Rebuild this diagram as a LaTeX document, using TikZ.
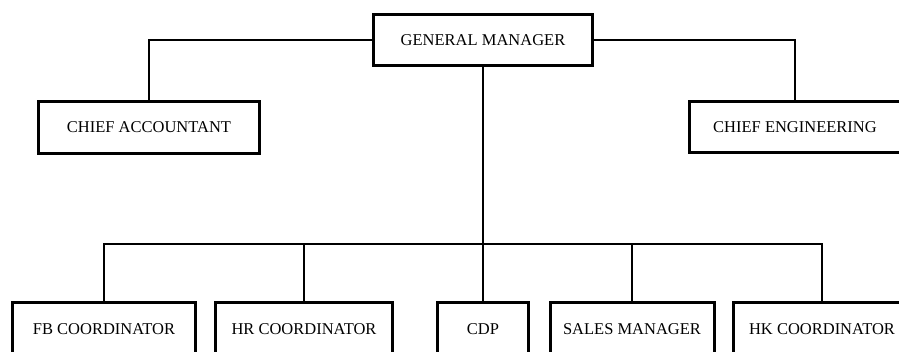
\documentclass[tikz,border=0pt]{standalone}
\usepackage{fontspec}
\setmainfont{Liberation Serif}
\begin{document}
\begin{tikzpicture}[x=1pt,y=-1pt,
  post/.style={draw=black, line width=3pt, fill=white, inner sep=0pt,
    minimum height=51pt, font=\fontsize{16.5}{18}\selectfont},
  link/.style={draw=black, line width=1.8pt}]
  % page frame
  \clip (0,0) rectangle (899,352);
  \fill[white] (0,0) rectangle (899,352);

  % top level
  \node[post, minimum width=219pt] (gm) at (483,40) {GENERAL MANAGER};
  \node[post, minimum width=221pt, minimum height=52pt] (ca) at (149,127.5) {CHIEF ACCOUNTANT};
  \node[post, minimum width=211pt, minimum height=51pt] (ce) at (795,127) {CHIEF ENGINEERING};

  % bottom level
  \node[post, minimum width=183pt, minimum height=54pt] (fb)  at (104,329.5) {FB COORDINATOR};
  \node[post, minimum width=177pt, minimum height=54pt] (hr)  at (304,329.5) {HR COORDINATOR};
  \node[post, minimum width=91pt,  minimum height=54pt] (cdp) at (483,329.5) {CDP};
  \node[post, minimum width=164pt, minimum height=54pt] (sm)  at (632,329.5) {SALES MANAGER};
  \node[post, minimum width=177pt, minimum height=54pt] (hk)  at (822,329.5) {HK COORDINATOR};

  % bus line for the bottom level
  \coordinate (bus) at (483,244);

  % connectors
  \draw[link] (gm.west) -| (ca.north);
  \draw[link] (gm.east) -| (ce.north);
  \draw[link] (gm.south) -- (cdp.north);
  \draw[link] (fb.north) -- (fb.north |- bus) -- (hk.north |- bus) -- (hk.north);
  \draw[link] (hr.north) -- (hr.north |- bus);
  \draw[link] (sm.north) -- (sm.north |- bus);
\end{tikzpicture}
\end{document}
